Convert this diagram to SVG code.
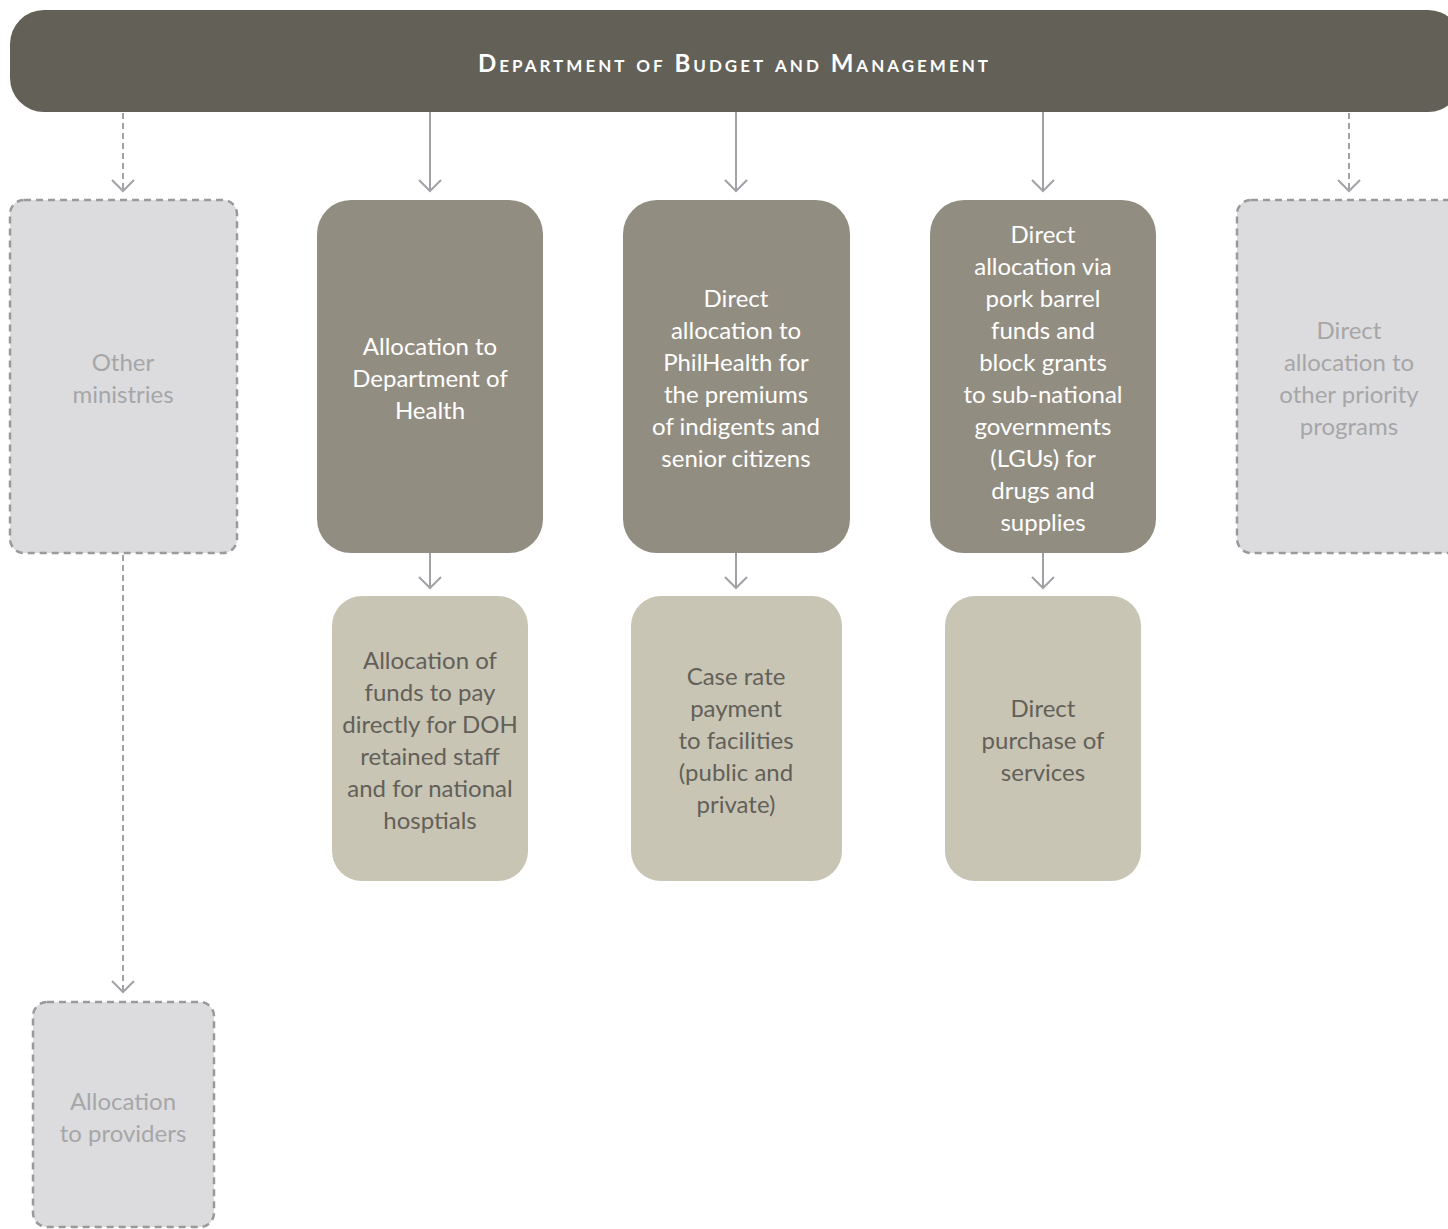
<svg xmlns="http://www.w3.org/2000/svg" width="1448" height="1229" viewBox="0 0 1448 1229">
<style>
  .hdr{fill:#636058}
  .dark{fill:#928d81}
  .light{fill:#c8c5b5}
  .dash{fill:#dcdcde;stroke:#9a9a9c;stroke-width:2.5;stroke-dasharray:7 5}
  text{font-family:Lato,"Open Sans","Liberation Sans",sans-serif;font-size:24px;text-anchor:middle;font-weight:400}
  .tw{fill:#ffffff}
  .td{fill:#636058}
  .tg{fill:#a6a6a8}
  .title{fill:#ffffff;font-size:24px;font-variant:small-caps;letter-spacing:2px;font-weight:700}
  .conn line{stroke:#a2a2a6;stroke-width:2;fill:none}
  .conn .d{stroke-dasharray:6 4}
</style>
<defs>
  <marker id="chev" markerUnits="userSpaceOnUse" viewBox="-12 -12 24 24" refX="0" refY="0" markerWidth="24" markerHeight="24" orient="auto">
    <path d="M-11,-11 L0,0 L-11,11" fill="none" stroke="#a2a2a6" stroke-width="2"/>
  </marker>
</defs>

<g id="dbm">
  <rect class="hdr" x="10" y="10" width="1452" height="102" rx="34"/>
  <text class="title" x="478" y="72" style="text-anchor:start" textLength="512" lengthAdjust="spacing">Department of Budget and Management</text>
</g>

<g class="conn" id="connectors">
  <line class="d" x1="123" y1="113" x2="123" y2="191" marker-end="url(#chev)"/>
  <line x1="430" y1="112" x2="430" y2="191" marker-end="url(#chev)"/>
  <line x1="736" y1="112" x2="736" y2="191" marker-end="url(#chev)"/>
  <line x1="1043" y1="112" x2="1043" y2="191" marker-end="url(#chev)"/>
  <line class="d" x1="1349" y1="113" x2="1349" y2="191" marker-end="url(#chev)"/>
  <line x1="430" y1="553" x2="430" y2="588" marker-end="url(#chev)"/>
  <line x1="736" y1="553" x2="736" y2="588" marker-end="url(#chev)"/>
  <line x1="1043" y1="553" x2="1043" y2="588" marker-end="url(#chev)"/>
  <line class="d" x1="123" y1="555" x2="123" y2="992" marker-end="url(#chev)"/>
</g>

<g id="other-ministries">
  <rect class="dash" x="10" y="200" width="227" height="353" rx="14"/>
  <text class="tg" x="123"><tspan x="123" y="371">Other</tspan><tspan x="123" y="403">ministries</tspan></text>
</g>

<g id="doh">
  <rect class="dark" x="317" y="200" width="226" height="353" rx="34"/>
  <text class="tw"><tspan x="430" y="355">Allocation to</tspan><tspan x="430" y="387">Department of</tspan><tspan x="430" y="419">Health</tspan></text>
</g>

<g id="philhealth">
  <rect class="dark" x="623" y="200" width="227" height="353" rx="34"/>
  <text class="tw"><tspan x="736" y="307">Direct</tspan><tspan x="736" y="339">allocation to</tspan><tspan x="736" y="371">PhilHealth for</tspan><tspan x="736" y="403">the premiums</tspan><tspan x="736" y="435">of indigents and</tspan><tspan x="736" y="467">senior citizens</tspan></text>
</g>

<g id="lgu">
  <rect class="dark" x="930" y="200" width="226" height="353" rx="34"/>
  <text class="tw"><tspan x="1043" y="243">Direct</tspan><tspan x="1043" y="275">allocation via</tspan><tspan x="1043" y="307">pork barrel</tspan><tspan x="1043" y="339">funds and</tspan><tspan x="1043" y="371">block grants</tspan><tspan x="1043" y="403">to sub-national</tspan><tspan x="1043" y="435">governments</tspan><tspan x="1043" y="467">(LGUs) for</tspan><tspan x="1043" y="499">drugs and</tspan><tspan x="1043" y="531">supplies</tspan></text>
</g>

<g id="other-priority">
  <rect class="dash" x="1237" y="200" width="227" height="353" rx="14"/>
  <text class="tg"><tspan x="1349" y="339">Direct</tspan><tspan x="1349" y="371">allocation to</tspan><tspan x="1349" y="403">other priority</tspan><tspan x="1349" y="435">programs</tspan></text>
</g>

<g id="doh-staff">
  <rect class="light" x="332" y="596" width="196" height="285" rx="30"/>
  <text class="td"><tspan x="430" y="669">Allocation of</tspan><tspan x="430" y="701">funds to pay</tspan><tspan x="430" y="733">directly for DOH</tspan><tspan x="430" y="765">retained staff</tspan><tspan x="430" y="797">and for national</tspan><tspan x="430" y="829">hosptials</tspan></text>
</g>

<g id="case-rate">
  <rect class="light" x="631" y="596" width="211" height="285" rx="30"/>
  <text class="td"><tspan x="736" y="685">Case rate</tspan><tspan x="736" y="717">payment</tspan><tspan x="736" y="749">to facilities</tspan><tspan x="736" y="781">(public and</tspan><tspan x="736" y="813">private)</tspan></text>
</g>

<g id="direct-purchase">
  <rect class="light" x="945" y="596" width="196" height="285" rx="30"/>
  <text class="td"><tspan x="1043" y="717">Direct</tspan><tspan x="1043" y="749">purchase of</tspan><tspan x="1043" y="781">services</tspan></text>
</g>

<g id="providers">
  <rect class="dash" x="33" y="1002" width="181" height="225" rx="14"/>
  <text class="tg"><tspan x="123" y="1110">Allocation</tspan><tspan x="123" y="1142">to providers</tspan></text>
</g>
</svg>
